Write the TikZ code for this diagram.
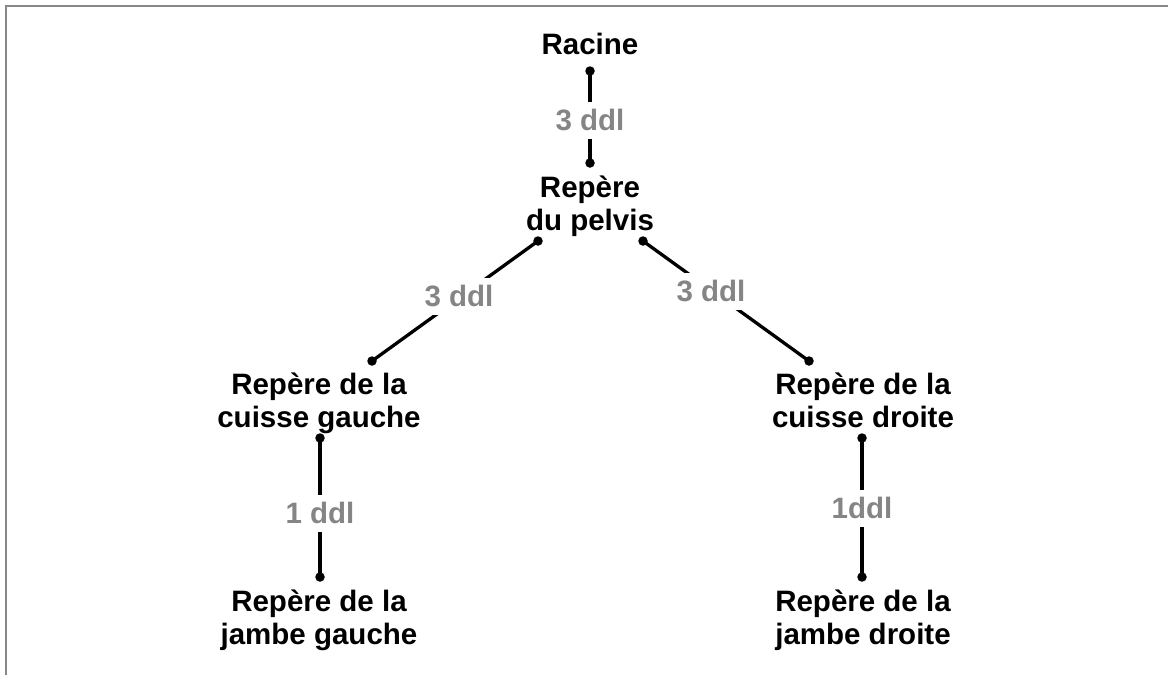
\documentclass[tikz,border=0pt]{standalone}
\usepackage{fontspec}
\setmainfont{Liberation Sans}
\definecolor{ddlgray}{HTML}{858585}
\definecolor{framegray}{HTML}{888888}
\begin{document}
\begin{tikzpicture}[x=1pt,y=-1pt,
  lbl/.style={font=\fontsize{29.5}{33}\selectfont\bfseries, align=center, inner sep=0pt, anchor=base},
  ddl/.style={font=\fontsize{29.5}{33}\selectfont\bfseries, text=ddlgray, fill=white, inner sep=0pt, minimum height=37pt},
  dot/.style={circle, fill=black, inner sep=0pt, minimum size=9.5pt},
  link/.style={line width=3.3pt}]
\useasboundingbox (0,0) rectangle (1168,675);
\draw[framegray, line width=2.7pt] (6,675) -- (6,6) -- (1168,6);

% text nodes
\node[lbl] (racine) at (590,54) {Racine};
\node[lbl] (pelvis) at (590,230) {Repère\\du pelvis};
\node[lbl] (cg) at (319,427) {Repère de la\\cuisse gauche};
\node[lbl] (cd) at (863,427) {Repère de la\\cuisse droite};
\node[lbl] (jg) at (319,644) {Repère de la\\jambe gauche};
\node[lbl] (jd) at (863,644) {Repère de la\\jambe droite};

% dots
\node[dot] (r1) at (590,71) {};
\node[dot] (p0) at (590,163) {};
\node[dot] (p1) at (538,241) {};
\node[dot] (p2) at (643,241) {};
\node[dot] (cg0) at (372,361) {};
\node[dot] (cd0) at (809,361) {};
\node[dot] (cg1) at (320,438) {};
\node[dot] (cd1) at (862,438) {};
\node[dot] (jg0) at (320,577) {};
\node[dot] (jd0) at (862,577) {};

% connectors
\draw[link] (r1.center) -- (p0.center);
\draw[link] (p1.center) -- (cg0.center);
\draw[link] (p2.center) -- (cd0.center);
\draw[link] (cg1.center) -- (jg0.center);
\draw[link] (cd1.center) -- (jd0.center);

% labels
\node[ddl] (l1) at (590,120) {3 ddl};
\node[ddl] (l2) at (459,296) {3 ddl};
\node[ddl] (l3) at (711,291) {3 ddl};
\node[ddl] (l4) at (320,513) {1 ddl};
\node[ddl] (l5) at (862,508) {1ddl};
\end{tikzpicture}
\end{document}
